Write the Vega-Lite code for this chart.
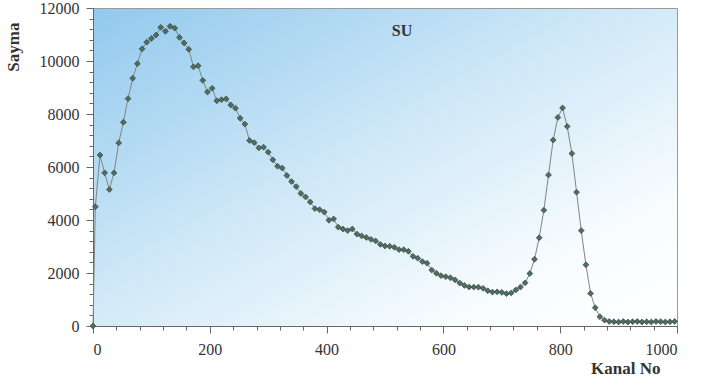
{
  "$schema": "https://vega.github.io/schema/vega-lite/v6.json",
  "width": 584,
  "height": 318,
  "autosize": "none",
  "padding": {"left": 93, "top": 8, "right": 29, "bottom": 64},
  "background": "#ffffff",
  "title": {"text": "SU", "font": "Liberation Serif", "fontSize": 16, "fontWeight": "bold", "color": "#333333", "anchor": "middle", "dx": 17, "offset": 0, "baseline": "top", "dy": 39},
  "config": {
    "view": {"stroke": "#9a9a9a", "strokeWidth": 1,
      "fill": {"gradient": "linear", "x1": 0, "y1": 0, "x2": 1, "y2": 1,
        "stops": [{"offset": 0, "color": "#92c9ee"}, {"offset": 0.45, "color": "#cfe8f7"}, {"offset": 0.8, "color": "#f8fcfe"}, {"offset": 1, "color": "#ffffff"}]}},
    "axis": {"labelFont": "Liberation Serif", "labelFontSize": 16, "labelColor": "#333333", "titleFont": "Liberation Serif", "titleFontWeight": "bold", "titleColor": "#333333", "domainColor": "#666666", "tickColor": "#666666", "grid": false}
  },
  "data": {"values": [
    {"c":0,"v":0},{"c":4,"v":4500},{"c":12,"v":6450},{"c":20,"v":5780},{"c":28,"v":5150},{"c":36,"v":5780},{"c":44,"v":6910},{"c":52,"v":7690},{"c":60,"v":8580},{"c":68,"v":9350},{"c":76,"v":9900},{"c":84,"v":10460},{"c":92,"v":10710},{"c":100,"v":10850},{"c":108,"v":10980},{"c":116,"v":11270},{"c":124,"v":11120},{"c":132,"v":11310},{"c":140,"v":11240},{"c":148,"v":10890},{"c":156,"v":10680},{"c":164,"v":10440},{"c":172,"v":9780},{"c":180,"v":9820},{"c":188,"v":9270},{"c":196,"v":8830},{"c":204,"v":8970},{"c":212,"v":8500},{"c":220,"v":8540},{"c":228,"v":8570},{"c":236,"v":8340},{"c":244,"v":8220},{"c":252,"v":7840},{"c":260,"v":7620},{"c":268,"v":7000},{"c":276,"v":6920},{"c":284,"v":6720},{"c":292,"v":6750},{"c":300,"v":6560},{"c":308,"v":6270},{"c":316,"v":6030},{"c":324,"v":5960},{"c":332,"v":5680},{"c":340,"v":5450},{"c":348,"v":5260},{"c":356,"v":5000},{"c":364,"v":4870},{"c":372,"v":4680},{"c":380,"v":4430},{"c":388,"v":4390},{"c":396,"v":4300},{"c":404,"v":3990},{"c":412,"v":4040},{"c":420,"v":3730},{"c":428,"v":3660},{"c":436,"v":3600},{"c":444,"v":3660},{"c":452,"v":3470},{"c":460,"v":3400},{"c":468,"v":3340},{"c":476,"v":3270},{"c":484,"v":3210},{"c":492,"v":3080},{"c":500,"v":3020},{"c":508,"v":3010},{"c":516,"v":2970},{"c":524,"v":2880},{"c":532,"v":2880},{"c":540,"v":2820},{"c":548,"v":2630},{"c":556,"v":2560},{"c":564,"v":2430},{"c":572,"v":2370},{"c":580,"v":2110},{"c":588,"v":1990},{"c":596,"v":1900},{"c":604,"v":1860},{"c":612,"v":1820},{"c":620,"v":1740},{"c":628,"v":1620},{"c":636,"v":1530},{"c":644,"v":1470},{"c":652,"v":1470},{"c":660,"v":1465},{"c":668,"v":1420},{"c":676,"v":1330},{"c":684,"v":1280},{"c":692,"v":1290},{"c":700,"v":1270},{"c":708,"v":1220},{"c":716,"v":1250},{"c":724,"v":1360},{"c":732,"v":1470},{"c":740,"v":1630},{"c":748,"v":1980},{"c":756,"v":2520},{"c":764,"v":3330},{"c":772,"v":4370},{"c":780,"v":5700},{"c":788,"v":7020},{"c":796,"v":7870},{"c":804,"v":8230},{"c":812,"v":7530},{"c":820,"v":6510},{"c":828,"v":5050},{"c":836,"v":3600},{"c":844,"v":2310},{"c":852,"v":1230},{"c":860,"v":690},{"c":868,"v":350},{"c":876,"v":220},{"c":884,"v":170},{"c":892,"v":160},{"c":900,"v":150},{"c":908,"v":170},{"c":916,"v":150},{"c":924,"v":160},{"c":932,"v":170},{"c":940,"v":150},{"c":948,"v":160},{"c":956,"v":150},{"c":964,"v":170},{"c":972,"v":160},{"c":980,"v":150},{"c":988,"v":160},{"c":996,"v":170}
  ]},
  "encoding": {
    "x": {"field": "c", "type": "quantitative", "scale": {"domain": [0, 1000], "nice": false},
      "axis": {"values": [0,40,80,120,160,200,240,280,320,360,400,440,480,520,560,600,640,680,720,760,800,840,880,920,960,1000],
        "labelExpr": "datum.value % 200 === 0 ? datum.label : ''", "labelOverlap": false, "format": "d",
        "tickSize": {"condition": {"test": "datum.value % 200 === 0", "value": 7}, "value": 4},
        "labelPadding": 8, "title": "Kanal No", "titleFontSize": 17, "titleAnchor": "end", "titleAlign": "right", "titleBaseline": "top", "titleX": 567, "titleY": 34}},
    "y": {"field": "v", "type": "quantitative", "scale": {"domain": [0, 12000], "nice": false},
      "axis": {"values": [0,400,800,1200,1600,2000,2400,2800,3200,3600,4000,4400,4800,5200,5600,6000,6400,6800,7200,7600,8000,8400,8800,9200,9600,10000,10400,10800,11200,11600,12000],
        "labelExpr": "datum.value % 2000 === 0 ? datum.label : ''", "labelOverlap": false, "format": "d",
        "tickSize": {"condition": {"test": "datum.value % 2000 === 0", "value": 7}, "value": 4},
        "labelPadding": 7, "title": "Sayma", "titleFontSize": 17, "titleAnchor": "end", "titleAngle": -90, "titleAlign": "right", "titleBaseline": "middle", "titleX": -80, "titleY": 14}}
  },
  "layer": [
    {"mark": {"type": "line", "color": "#7d8782", "strokeWidth": 1}},
    {"mark": {"type": "point", "shape": "diamond", "filled": true, "size": 34, "color": "#4f6e60", "stroke": "#33443c", "strokeWidth": 0.7, "opacity": 1}}
  ]
}
